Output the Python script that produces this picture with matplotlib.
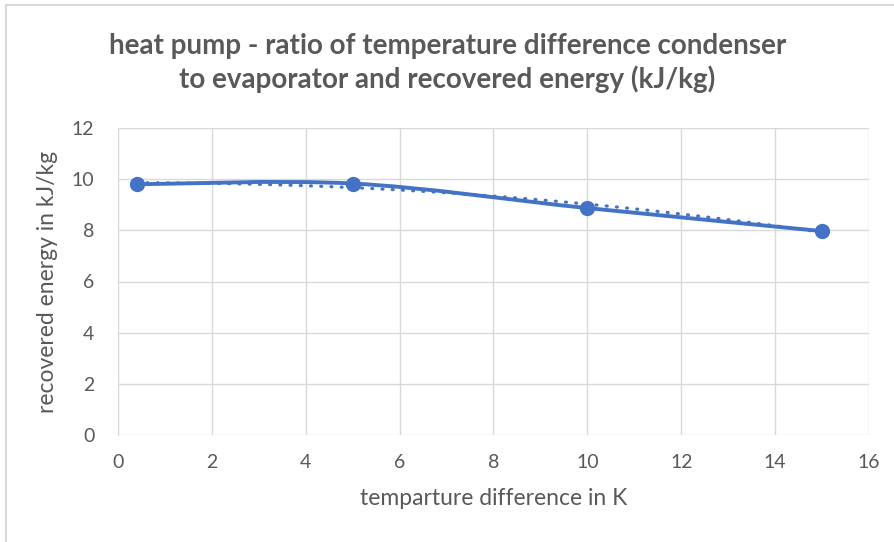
import matplotlib.pyplot as plt
import numpy as np
from matplotlib.path import Path
from matplotlib.patches import PathPatch
from matplotlib.lines import Line2D

temp_diff = [0.4, 5, 10, 15]
energy = [9.8, 9.83, 8.87, 7.97]

title = "heat pump - ratio of temperature difference condenser\nto evaporator and recovered energy (kJ/kg)"
x_label = "temparture difference in K"
y_label = "recovered energy in kJ/kg"

blue = "#4472C4"
grey_text = "#595959"
grid_col = "#D9D9D9"

plt.rcParams['font.family'] = ['Lato', 'DejaVu Sans']

fig = plt.figure(figsize=(8.95, 5.42), dpi=100)
ax = fig.add_axes([118/895, 1-435/542, (869-118)/895, (435-128)/542])

ax.set_xlim(0, 16)
ax.set_ylim(0, 12)
ax.set_xticks(np.arange(0, 17, 2))
ax.set_yticks(np.arange(0, 13, 2))
ax.grid(True, color=grid_col, linewidth=1)
ax.set_axisbelow(True)
for s in ['top', 'right', 'bottom']:
    ax.spines[s].set_visible(False)
ax.spines['left'].set_color(grid_col)
ax.tick_params(length=0, labelsize=14, colors=grey_text)
ax.tick_params(axis='y', pad=17)
ax.tick_params(axis='x', pad=14)

# smoothed line (Excel-style Bezier through the points)
x = np.array(temp_diff, float)
y = np.array(energy, float)
n = len(x)
verts = [(x[0], y[0])]
codes = [Path.MOVETO]
t = 1 / 6
for i in range(n - 1):
    p0 = (x[i - 1], y[i - 1]) if i > 0 else (x[i], y[i])
    p3 = (x[i + 2], y[i + 2]) if i + 2 < n else (x[i + 1], y[i + 1])
    c1 = (x[i] + (x[i + 1] - p0[0]) * t, y[i] + (y[i + 1] - p0[1]) * t)
    c2 = (x[i + 1] - (p3[0] - x[i]) * t, y[i + 1] - (p3[1] - y[i]) * t)
    verts += [c1, c2, (x[i + 1], y[i + 1])]
    codes += [Path.CURVE4] * 3
ax.add_patch(PathPatch(Path(verts, codes), facecolor='none', edgecolor=blue,
                       linewidth=2.8, capstyle='round', zorder=3))

# polynomial trendline (order 2)
coef = np.polyfit(x, y, 2)
xt = np.linspace(x[0], x[-1], 100)
ax.plot(xt, np.polyval(coef, xt), color=blue, linewidth=2.3, linestyle=(0, (0.3, 2.9)),
        dash_capstyle='round', zorder=3)

ax.plot(x, y, 'o', color=blue, markersize=10, zorder=4)

ax.set_xlabel(x_label, fontsize=16.5, color=grey_text, labelpad=12)
ax.set_ylabel(y_label, fontsize=16.5, color=grey_text, labelpad=10)
fig.text(0.5, 1 - 63/542, title, ha='center', va='center', fontsize=20,
         fontweight='bold', color=grey_text, linespacing=1.3)

# chart border
fig.add_artist(Line2D([6/895, 6/895], [0, 1 - 5/542], color=grid_col, lw=1.5))
fig.add_artist(Line2D([6/895, 1], [1 - 5/542, 1 - 5/542], color=grid_col, lw=1.5))

fig.savefig("out.png", dpi=100)
